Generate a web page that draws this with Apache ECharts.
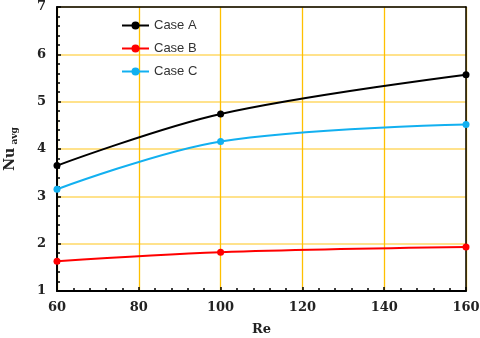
<!DOCTYPE html>
<html>
<head>
<meta charset="utf-8">
<script src="https://cdn.jsdelivr.net/npm/echarts@6/dist/echarts.min.js"></script>
<style>
html,body{margin:0;padding:0;background:#fff;}
#chart{width:480px;height:338px;}
</style>
</head>
<body>
<div id="chart"></div>
<script>
var reValues = [60, 100, 160];
var caseA = [3.65, 4.74, 5.57];
var caseB = [1.63, 1.82, 1.93];
var caseC = [3.15, 4.16, 4.52];
var seriesNames = ['Case A', 'Case B', 'Case C'];
var seriesColors = ['#000000', '#ff0000', '#12b0f0'];

function pairs(ys) {
    var out = [];
    for (var i = 0; i < reValues.length; i++) {
        out.push([reValues[i], ys[i]]);
    }
    return out;
}

function makeSeries(name, ys, color) {
    return {
        name: name,
        type: 'line',
        smooth: 0.35,
        data: pairs(ys),
        symbol: 'circle',
        symbolSize: 7,
        itemStyle: {color: color},
        lineStyle: {color: color, width: 2},
        z: 5
    };
}

// plain frame axes for top and right edges
function frameAxis(pos, min, max) {
    return {
        type: 'value', position: pos, min: min, max: max,
        axisLine: {show: true, onZero: false, lineStyle: {color: '#000', width: 1.5}},
        axisTick: {show: false}, axisLabel: {show: false}, splitLine: {show: false}
    };
}

var chart = echarts.init(document.getElementById('chart'));
var labelFont = {fontFamily: 'DejaVu Serif', fontWeight: 'bold', fontSize: 13, color: '#222'};

chart.setOption({
    animation: false,
    grid: {left: 57, right: 14, top: 7, bottom: 47, outerBoundsMode: 'none', containLabel: false},
    legend: {
        orient: 'vertical',
        left: 116,
        top: 14,
        itemWidth: 27,
        itemHeight: 10,
        itemGap: 10,
        data: seriesNames,
        textStyle: {fontFamily: 'Liberation Sans', fontSize: 13, color: '#333'}
    },
    xAxis: [{
        type: 'value',
        min: 60,
        max: 160,
        interval: 20,
        name: 'Re',
        nameLocation: 'middle',
        nameGap: 32,
        nameTextStyle: {fontFamily: 'DejaVu Serif', fontWeight: 'bold', fontSize: 13, color: '#222'},
        axisLine: {lineStyle: {color: '#000', width: 2}},
        axisTick: {inside: true, length: 4, lineStyle: {color: '#000', width: 1.5}},
        minorTick: {show: true, splitNumber: 5, length: 3, lineStyle: {color: '#000', width: 1.5}},
        axisLabel: Object.assign({margin: 10}, labelFont),
        splitLine: {show: true, lineStyle: {color: '#ffc000', width: 1.3}}
    }, frameAxis('top', 60, 160)],
    yAxis: [{
        type: 'value',
        min: 1,
        max: 7,
        interval: 1,
        name: '{main|Nu}{sub| avg}',
        nameLocation: 'middle',
        nameGap: 38,
        nameTextStyle: {
            rich: {
                main: {fontFamily: 'DejaVu Serif', fontWeight: 'bold', fontSize: 14, color: '#222'},
                sub: {fontFamily: 'DejaVu Serif', fontWeight: 'bold', fontSize: 9, color: '#222', padding: [8, 0, 0, 0]}
            }
        },
        axisLine: {lineStyle: {color: '#000', width: 2}},
        axisTick: {inside: true, length: 4, lineStyle: {color: '#000', width: 1.5}},
        minorTick: {show: true, splitNumber: 5, length: 3, lineStyle: {color: '#000', width: 1.5}},
        axisLabel: Object.assign({margin: 11}, labelFont),
        splitLine: {show: true, lineStyle: {color: '#ffd966', width: 1.5}}
    }, frameAxis('right', 1, 7)],
    series: [
        makeSeries(seriesNames[0], caseA, seriesColors[0]),
        makeSeries(seriesNames[1], caseB, seriesColors[1]),
        makeSeries(seriesNames[2], caseC, seriesColors[2])
    ]
});
</script>
</body>
</html>
